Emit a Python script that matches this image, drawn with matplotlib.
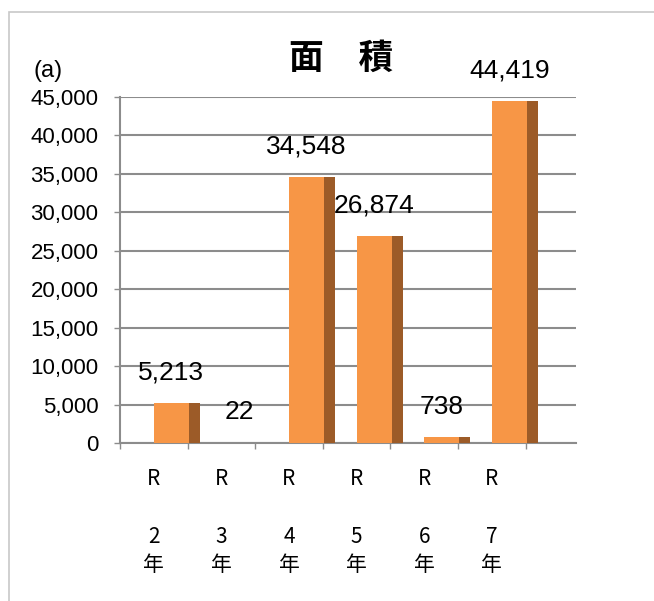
import matplotlib
matplotlib.use("Agg")
import matplotlib.pyplot as plt
import numpy as np
from matplotlib.patches import Rectangle
from matplotlib.ticker import FuncFormatter, MultipleLocator, FixedLocator

plt.rcParams["font.family"] = ["Liberation Sans", "Noto Sans CJK JP", "DejaVu Sans"]

# データ（令和2年〜7年の面積）
nendo = ["2", "3", "4", "5", "6", "7"]
menseki = [5213, 22, 34548, 26874, 738, 44419]

titulo = "面　積"
etiqueta_a = "(a)"

_FRENTE = "#F79646"
_LADO = "#9C5B28"
_GRADE = "#8C8C8C"
_CJK = ["Noto Sans CJK JP", "DejaVu Sans"]

W, H = 654, 601
fig = plt.figure(figsize=(W / 100, H / 100), dpi=100)
ax = fig.add_axes([120 / W, 158 / H, 456 / W, 346 / H])

x = np.arange(len(menseki))
# face frontal + face lateral (efeito 3D do Excel)
ax.bar(x + 0.26, menseki, width=0.52, color=_FRENTE, zorder=3)
ax.bar(x + 0.60, menseki, width=0.16, color=_LADO, zorder=3)

for xi, v in zip(x, menseki):
    ax.annotate(f"{v:,}", (xi + 0.26, v), xytext=(0, 22),
                textcoords="offset points", ha="center", va="center",
                fontsize=19, zorder=4)

ax.set_xlim(-0.5, 6.246)
ax.set_ylim(0, 45000)
ax.yaxis.set_major_locator(MultipleLocator(5000))
ax.yaxis.set_major_formatter(FuncFormatter(lambda v, _: f"{int(v):,}"))
ax.yaxis.grid(True, color=_GRADE, lw=1.5, zorder=1)

ax.set_xticks(x)
ax.set_xticklabels([f"R\n\n{n}\n年" for n in nendo])
ax.xaxis.set_minor_locator(FixedLocator(np.arange(-0.5, 6, 1.0)))
ax.tick_params(axis="x", which="major", length=0, pad=18, labelsize=15)
ax.tick_params(axis="x", which="minor", length=4.5, width=1, color=_GRADE,
               direction="out")
ax.tick_params(axis="y", length=4.5, width=1, color=_GRADE, pad=11,
               labelsize=16)
for rot in ax.get_xticklabels():
    rot.set_family(_CJK)
    rot.set_linespacing(1.4)

for lado in ("top", "right"):
    ax.spines[lado].set_visible(False)
for lado in ("left", "bottom"):
    ax.spines[lado].set_color(_GRADE)
    ax.spines[lado].set_linewidth(1.5)

fig.text(341 / W, 1 - 58 / H, titulo, ha="center", va="center", fontsize=25,
         fontweight="bold", family=_CJK)
fig.text(48 / W, 1 - 71 / H, etiqueta_a, ha="center", va="center", fontsize=17)

# moldura cinza (só topo e esquerda visíveis)
fig.add_artist(Rectangle((9 / W, -0.2), 1.2, 1.2 - 12 / H,
                         transform=fig.transFigure, fill=False,
                         edgecolor="#C8C8C8", lw=1.2))

fig.savefig("out.png", dpi=100)
